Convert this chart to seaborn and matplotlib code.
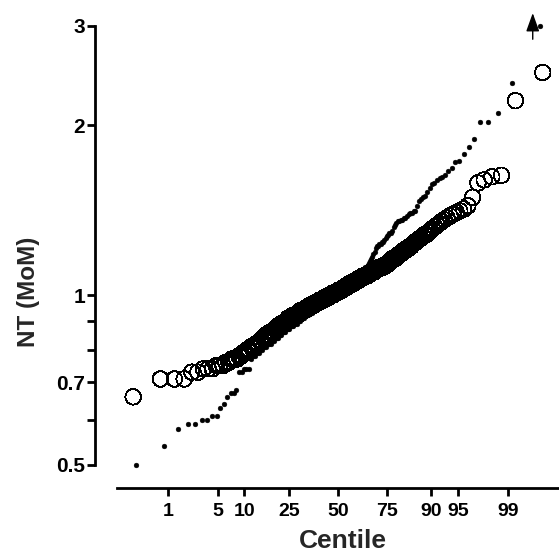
import matplotlib
matplotlib.use("Agg")
import matplotlib.pyplot as plt
from matplotlib.ticker import FixedLocator, FixedFormatter, NullLocator
import numpy as np
import pandas as pd
import seaborn as sns
from statistics import NormalDist

# ---------------- data ----------------
centile_ticks = [1, 5, 10, 25, 50, 75, 90, 95, 99]
centile_tick_labels = ["1", "5", "10", "25", "50", "75", "90", "95", "99"]
y_ticks = [0.5, 0.6, 0.7, 0.8, 0.9, 1, 2, 3]
y_tick_labels = ["0.5", "", "0.7", "", "", "1", "2", "3"]

# sorted NT MoM values, open circles (n = 200)
circles_mom = [
    0.66, 0.71, 0.71, 0.71, 0.73, 0.73, 0.74, 0.74, 0.74, 0.75,
    0.75, 0.75, 0.76, 0.76, 0.77, 0.77, 0.77, 0.78, 0.78, 0.79,
    0.79, 0.80, 0.80, 0.81, 0.81, 0.81, 0.82, 0.82, 0.83, 0.83,
    0.84, 0.84, 0.85, 0.85, 0.85, 0.86, 0.86, 0.86, 0.87, 0.87,
    0.88, 0.88, 0.88, 0.89, 0.89, 0.89, 0.89, 0.90, 0.90, 0.91,
    0.91, 0.91, 0.91, 0.92, 0.92, 0.92, 0.92, 0.92, 0.93, 0.93,
    0.93, 0.94, 0.94, 0.94, 0.94, 0.94, 0.95, 0.95, 0.95, 0.95,
    0.96, 0.96, 0.96, 0.96, 0.96, 0.97, 0.97, 0.97, 0.97, 0.97,
    0.98, 0.98, 0.98, 0.98, 0.98, 0.99, 0.99, 0.99, 0.99, 0.99,
    1.00, 1.00, 1.00, 1.00, 1.00, 1.01, 1.01, 1.01, 1.01, 1.01,
    1.02, 1.02, 1.02, 1.02, 1.02, 1.03, 1.03, 1.03, 1.03, 1.04,
    1.04, 1.04, 1.04, 1.05, 1.05, 1.05, 1.05, 1.05, 1.06, 1.06,
    1.06, 1.06, 1.07, 1.07, 1.07, 1.07, 1.08, 1.08, 1.08, 1.08,
    1.08, 1.09, 1.09, 1.09, 1.09, 1.10, 1.10, 1.10, 1.10, 1.11,
    1.11, 1.11, 1.12, 1.12, 1.12, 1.12, 1.12, 1.13, 1.13, 1.13,
    1.14, 1.14, 1.15, 1.15, 1.16, 1.16, 1.16, 1.17, 1.17, 1.18,
    1.18, 1.19, 1.19, 1.20, 1.20, 1.21, 1.21, 1.22, 1.22, 1.23,
    1.24, 1.24, 1.25, 1.26, 1.26, 1.27, 1.28, 1.28, 1.29, 1.30,
    1.31, 1.32, 1.33, 1.34, 1.35, 1.36, 1.37, 1.38, 1.39, 1.40,
    1.41, 1.42, 1.44, 1.49, 1.58, 1.60, 1.62, 1.63, 2.21, 2.48,
]

# sorted NT MoM values, small filled dots (n = 177)
dots_mom = [
    0.50, 0.54, 0.58, 0.59, 0.59, 0.60, 0.60, 0.61, 0.61, 0.63,
    0.64, 0.66, 0.67, 0.67, 0.68, 0.73, 0.73, 0.74, 0.74, 0.74,
    0.77, 0.78, 0.78, 0.79, 0.79, 0.80, 0.80, 0.81, 0.81, 0.82,
    0.82, 0.82, 0.83, 0.83, 0.84, 0.84, 0.84, 0.85, 0.85, 0.86,
    0.86, 0.86, 0.87, 0.87, 0.87, 0.88, 0.88, 0.88, 0.89, 0.89,
    0.89, 0.90, 0.90, 0.90, 0.91, 0.91, 0.91, 0.92, 0.92, 0.92,
    0.92, 0.93, 0.93, 0.93, 0.94, 0.94, 0.94, 0.95, 0.95, 0.95,
    0.96, 0.96, 0.96, 0.97, 0.97, 0.97, 0.98, 0.98, 0.98, 0.99,
    0.99, 0.99, 1.00, 1.00, 1.00, 1.01, 1.01, 1.01, 1.01, 1.02,
    1.02, 1.02, 1.03, 1.03, 1.04, 1.04, 1.04, 1.05, 1.05, 1.05,
    1.06, 1.06, 1.07, 1.07, 1.08, 1.08, 1.08, 1.09, 1.09, 1.09,
    1.10, 1.10, 1.11, 1.11, 1.12, 1.12, 1.13, 1.14, 1.15, 1.16,
    1.17, 1.18, 1.19, 1.21, 1.22, 1.22, 1.23, 1.23, 1.24, 1.24,
    1.25, 1.26, 1.27, 1.28, 1.29, 1.29, 1.30, 1.32, 1.33, 1.34,
    1.35, 1.35, 1.36, 1.36, 1.37, 1.37, 1.38, 1.39, 1.40, 1.40,
    1.41, 1.41, 1.44, 1.47, 1.48, 1.49, 1.50, 1.52, 1.55, 1.57,
    1.58, 1.60, 1.61, 1.62, 1.63, 1.66, 1.68, 1.72, 1.73, 1.78,
    1.83, 1.89, 2.03, 2.03, 2.10, 2.38, 3.00,
]

# ---------------- helpers ----------------
nd = NormalDist()


def probit_positions(values):
    n = len(values)
    return [nd.inv_cdf((i + 0.5) / n) for i in range(n)]


df_c = pd.DataFrame({"z": probit_positions(circles_mom), "mom": circles_mom})
df_d = pd.DataFrame({"z": probit_positions(dots_mom), "mom": dots_mom})

sns.set_style("white")
plt.rcParams["font.family"] = ["Liberation Sans", "DejaVu Sans"]
plt.rcParams["font.weight"] = "bold"

W, H = 559, 557
fig = plt.figure(figsize=(W / 100, H / 100), dpi=100)
ax = fig.add_axes([95 / W, (H - 488) / H, (W - 95) / W, (488 - 10) / H])

sns.scatterplot(data=df_c, x="z", y="mom", ax=ax, marker="o", s=125,
                facecolors="none", edgecolor="black", linewidth=0.6,
                clip_on=False, zorder=2)
sns.scatterplot(data=df_d, x="z", y="mom", ax=ax, marker="o", s=12,
                color="black", edgecolor="black", linewidth=0.3,
                clip_on=False, zorder=3)
for coll in ax.collections:
    coll.set_antialiased(False)

# off-scale arrow for the top value
arrow_z, arrow_y0, arrow_y1 = 2.67, 2.84, 3.16
ax.annotate("", xy=(arrow_z, arrow_y1), xytext=(arrow_z, arrow_y0),
            arrowprops=dict(arrowstyle="-|>,head_length=0.75,head_width=0.27",
                            color="black", lw=1.0, mutation_scale=15,
                            shrinkA=0, shrinkB=0),
            annotation_clip=False)

ax.set_yscale("log")
ax.set_ylim(0.455, 3.2)
ax.set_xlim(-3.33, 3.03)

ax.yaxis.set_major_locator(FixedLocator(y_ticks))
ax.yaxis.set_major_formatter(FixedFormatter(y_tick_labels))
ax.yaxis.set_minor_locator(NullLocator())
ax.set_xticks([nd.inv_cdf(c / 100) for c in centile_ticks])
ax.set_xticklabels(centile_tick_labels)
ax.xaxis.set_minor_locator(NullLocator())

for s in ["top", "right"]:
    ax.spines[s].set_visible(False)
ax.spines["left"].set_bounds(0.5, 3)
ax.spines["bottom"].set_bounds(-3.03, 3.03)
for s in ["left", "bottom"]:
    ax.spines[s].set_linewidth(2)
    ax.spines[s].set_color("black")

ax.tick_params(axis="y", direction="out", length=6, width=2, pad=1,
               labelsize=15, colors="black", left=True)
ax.tick_params(axis="x", direction="out", length=6, width=2, pad=5,
               labelsize=14, colors="black", bottom=True)
for lab in ax.get_xticklabels() + ax.get_yticklabels():
    lab.set_fontweight("bold")

ax.set_xlabel("")
ax.set_ylabel("")
fig.text(343 / W, 1 - 541 / H, "Centile", ha="center", va="center",
         fontsize=19, fontweight="bold")
fig.text(28 / W, 1 - 292 / H, "NT (MoM)", ha="center", va="center",
         fontsize=17.5, fontweight="bold", rotation=90)

ax.grid(False)
fig.savefig("out.png", dpi=100)
